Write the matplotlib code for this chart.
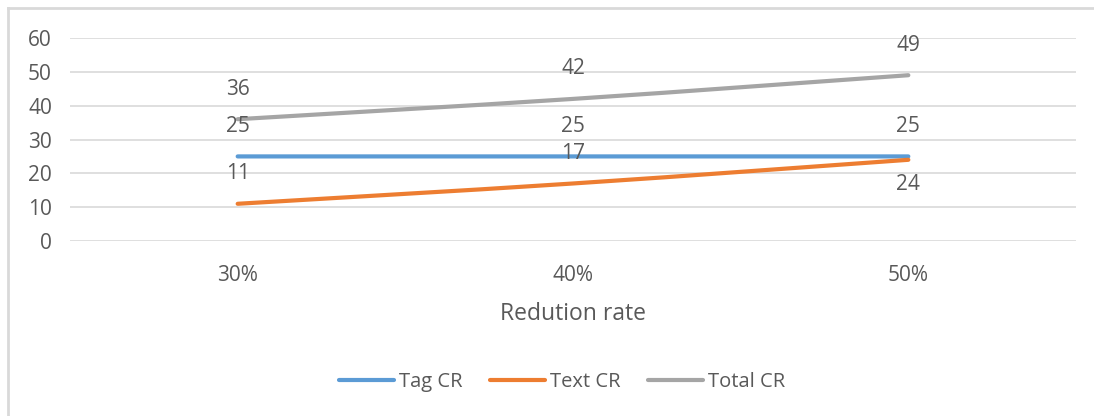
import matplotlib.pyplot as plt
from matplotlib.path import Path
from matplotlib.patches import PathPatch
from matplotlib.lines import Line2D

plt.rcParams['font.family'] = ['Open Sans', 'DejaVu Sans']

rates = ['30%', '40%', '50%']
tag_cr = [25, 25, 25]
text_cr = [11, 17, 24]
total_cr = [36, 42, 49]

series = [
    ('Tag CR', tag_cr, '#5B9BD5'),
    ('Text CR', text_cr, '#ED7D31'),
    ('Total CR', total_cr, '#A5A5A5'),
]
# label placement per point: +1 above, -1 below
label_side = {
    'Tag CR': [1, 1, 1],
    'Text CR': [1, 1, -1],
    'Total CR': [1, 1, 1],
}

txt = '#595959'
grid = '#D9D9D9'


def smooth_path(xs, ys):
    # Catmull-Rom through the points, as cubic Bezier segments
    pts = list(zip(xs, ys))
    verts = [pts[0]]
    codes = [Path.MOVETO]
    n = len(pts)
    for i in range(n - 1):
        p0 = pts[max(i - 1, 0)]
        p1 = pts[i]
        p2 = pts[i + 1]
        p3 = pts[min(i + 2, n - 1)]
        c1 = (p1[0] + (p2[0] - p0[0]) / 6, p1[1] + (p2[1] - p0[1]) / 6)
        c2 = (p2[0] - (p3[0] - p1[0]) / 6, p2[1] - (p3[1] - p1[1]) / 6)
        verts += [c1, c2, p2]
        codes += [Path.CURVE4] * 3
    return Path(verts, codes)


fig = plt.figure(figsize=(10.94, 4.16), dpi=100)
ax = fig.add_axes([70 / 1094, 1 - 241 / 416, (1076 - 70) / 1094, (241 - 38) / 416])

x = list(range(len(rates)))
handles = []
for name, vals, col in series:
    patch = PathPatch(smooth_path(x, vals), facecolor='none', edgecolor=col,
                      lw=3.0, capstyle='round', joinstyle='round', zorder=3)
    ax.add_patch(patch)
    handles.append(Line2D([], [], color=col, lw=3.0, solid_capstyle='round', label=name))
    for xi, v, side in zip(x, vals, label_side[name]):
        off = 30 if side > 0 else -25
        ax.annotate(str(v), (xi, v), xytext=(0, off), textcoords='offset pixels',
                    ha='center', va='center', fontsize=15, color=txt, zorder=4)

ax.set_xlim(-0.5, 2.5)
ax.set_ylim(0, 60)
ax.set_yticks(range(0, 61, 10))
ax.set_xticks(x)
ax.set_xticklabels(rates)
ax.yaxis.grid(True, color=grid, lw=1.2)
ax.set_axisbelow(True)
for s in ax.spines.values():
    s.set_visible(False)
ax.tick_params(axis='both', length=0, colors=txt, labelsize=15)
ax.tick_params(axis='y', pad=13)
ax.tick_params(axis='x', pad=17)
ax.set_xlabel('Redution rate', fontsize=16.5, color=txt, labelpad=12)

fig.legend(handles=handles, loc='center', bbox_to_anchor=(562 / 1094, 1 - 382 / 416),
           ncol=3, frameon=False, fontsize=14.5, labelcolor=txt, handlelength=2.7,
           handletextpad=0.25, columnspacing=1.4)

# chart area border (top and left edges visible)
fig.add_artist(Line2D([8 / 1094, 1], [1 - 8 / 416, 1 - 8 / 416], transform=fig.transFigure,
                      color='#D9D9D9', lw=2))
fig.add_artist(Line2D([8 / 1094, 8 / 1094], [0, 1 - 8 / 416], transform=fig.transFigure,
                      color='#D9D9D9', lw=2))

fig.savefig('out.png', dpi=100)
